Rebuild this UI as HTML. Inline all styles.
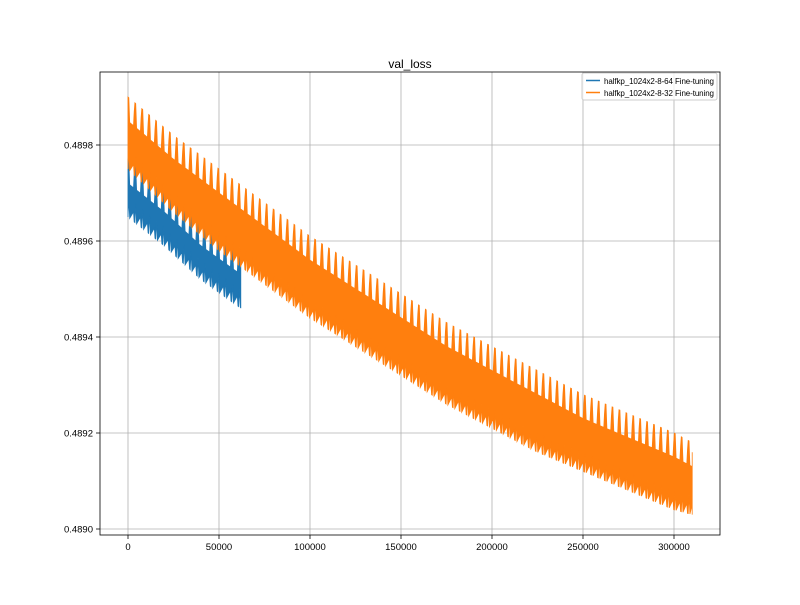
<!DOCTYPE html>
<html><head><meta charset="utf-8"><style>
body{margin:0;background:#fff;font-family:"Liberation Sans","DejaVu Sans",sans-serif}
</style></head><body>
<svg id="chart" width="800" height="600" xmlns="http://www.w3.org/2000/svg">
<rect width="800" height="600" fill="#fff"/>
<g id="grid"></g><g id="series"></g>
<rect x="100" y="72" width="620" height="463" fill="none" stroke="#000" stroke-width="0.8"/>
<g id="axes"></g>
<text x="410" y="68" text-anchor="middle" font-size="12">val_loss</text>
<g>
<rect x="582" y="73" width="135" height="27" fill="#fff" fill-opacity="0.8" stroke="#ccc" rx="2"/>
<line x1="586" y1="80.5" x2="600" y2="80.5" stroke="#1f77b4" stroke-width="1.5"/>
<text x="604" y="84" font-size="8" textLength="110">halfkp_1024x2-8-64 Fine-tuning</text>
<line x1="586" y1="92.5" x2="600" y2="92.5" stroke="#ff7f0e" stroke-width="1.5"/>
<text x="604" y="96" font-size="8" textLength="110">halfkp_1024x2-8-32 Fine-tuning</text>
</g>
</svg>
<script>
const xTicks=[0,50000,100000,150000,200000,250000,300000];
const yTicks=[0.4890,0.4892,0.4894,0.4896,0.4898];
const orangeSteps=[0,25000,50000,75000,100000,125000,150000,175000,200000,225000,250000,275000,300000,310000];
const orangeUpper=[0.48990,0.48982,0.48975,0.48968,0.48961,0.48955,0.48949,0.48943,0.48938,0.48933,0.48928,0.48924,0.48920,0.48918];
const orangeLower=[0.48975,0.48966,0.48958,0.48951,0.48944,0.48938,0.48932,0.48926,0.48921,0.48916,0.48912,0.48908,0.48904,0.48903];
const blueSteps=[0,20000,40000,62000];
const blueUpper=[0.48977,0.48971,0.48964,0.48958];
const blueLower=[0.48965,0.48959,0.48952,0.48946];
const X=v=>128+(v/50000)*91;
const Y=v=>529-(v-0.4890)/0.0002*96;
const NS="http://www.w3.org/2000/svg";
function mk(t,a,p){const e=document.createElementNS(NS,t);for(const k in a)e.setAttribute(k,a[k]);p.appendChild(e);return e;}
const grid=document.getElementById('grid'),axes=document.getElementById('axes'),ser=document.getElementById('series');
xTicks.forEach(t=>{const x=X(t);
const g=mk('line',{x1:x,x2:x,y1:72,y2:535,stroke:'#b0b0b0','stroke-width':0.8},grid);


mk('line',{x1:x,x2:x,y1:535,y2:539,stroke:'#000','stroke-width':0.8},axes);
const l=mk('text',{x:x,y:550,'font-size':9.5,'text-anchor':'middle'},axes);l.textContent=t;

});
yTicks.forEach(t=>{const y=Y(t);
const g=mk('line',{x1:100,x2:720,y1:y,y2:y,stroke:'#b0b0b0','stroke-width':0.8},grid);


mk('line',{x1:96,x2:100,y1:y,y2:y,stroke:'#000','stroke-width':0.8},axes);
const l=mk('text',{x:93,y:y+3.5,'font-size':9.5,'text-anchor':'end'},axes);l.textContent=t.toFixed(4);

});
function env(steps,arr,s){for(let i=1;i<steps.length;i++){if(s<=steps[i]){const f=(s-steps[i-1])/(steps[i]-steps[i-1]);return arr[i-1]+f*(arr[i]-arr[i-1]);}}return arr[arr.length-1];}
function band(steps,up,lo,color,period,name){
const end=steps[steps.length-1];let top=[],bot=[];
const ph=[[0,0,0],[0.12,0,0.00004],[0.25,0.00005,0],[0.8,0.00005,0.00002],[0.9,0.00002,0]];
for(let s0=0;s0<=end;s0+=period){ph.forEach(q=>{const s=Math.min(s0+q[0]*period,end);
const u=env(steps,up,s)-q[1], l=env(steps,lo,s)+q[2];
top.push(X(s).toFixed(1)+','+Y(u).toFixed(1));bot.unshift(X(s).toFixed(1)+','+Y(l).toFixed(1));});}
const p=mk('polygon',{points:top.concat(bot).join(' '),fill:color,stroke:color,'stroke-width':0.8},ser);

}
band(blueSteps,blueUpper,blueLower,'#1f77b4',3800,'series-8-64');
band(orangeSteps,orangeUpper,orangeLower,'#ff7f0e',3800,'series-8-32');
</script>
</body></html>
